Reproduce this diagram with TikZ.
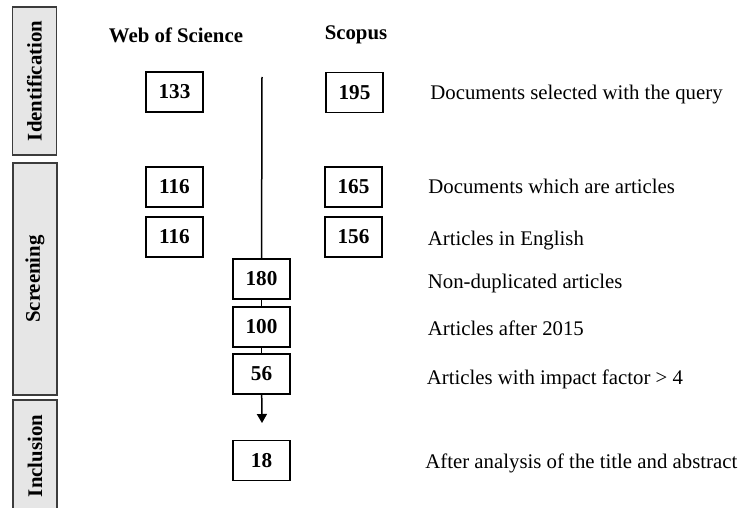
\documentclass[tikz,border=0pt]{standalone}
\usepackage{fontspec}
\setmainfont{Liberation Serif}
\usetikzlibrary{arrows.meta}
\definecolor{phasefill}{RGB}{230,230,230}
\definecolor{phaseline}{RGB}{60,60,60}

\begin{document}
\begin{tikzpicture}[
  x=0.5pt, y=-0.5pt,
  font=\fontsize{10.4}{12.5}\selectfont,
  phase/.style = {draw=phaseline, fill=phasefill, line width=0.9pt, rotate=90,
                  minimum height=22pt, inner sep=0pt, font=\fontsize{10.4}{12.5}\selectfont\bfseries},
  count/.style = {draw, line width=0.75pt, minimum width=28.5pt, minimum height=20pt,
                  inner sep=0pt, font=\fontsize{10.6}{12.5}\selectfont\bfseries},
  src/.style   = {font=\fontsize{10.4}{12.5}\selectfont\bfseries},
  desc/.style  = {anchor=west, inner sep=0pt, text height=1.5ex, text depth=0.25ex},
  flow/.style  = {line width=0.75pt},
  arr/.style   = {flow, -{Triangle[width=5pt, length=4.5pt]}}
]
\useasboundingbox (0,0) rectangle (739,508);

\node[phase, minimum width=74pt] (ident)  at (34.5,81)  {Identification};
\node[phase, minimum width=116pt] (screen) at (35,279)  {Screening};
\node[phase, minimum width=56pt] (incl)   at (35,456)   {Inclusion};

\node[src] (wos)    at (176,35) {Web of Science};
\node[src] (scopus) at (356,35) {Scopus};

\node[count] (wosq)   at (174.5,92)  {133};
\node[count] (scoq)   at (354.5,92.5){195};
\node[count] (wosart) at (174.5,187) {116};
\node[count] (scoart) at (353.5,187) {165};
\node[count] (woseng) at (174.5,237) {116};
\node[count] (scoeng) at (353.5,237) {156};
\node[count] (nodup)  at (261.5,279) {180};
\node[count] (recent) at (261.5,327) {100};
\node[count] (impact) at (261.5,374) {56};
\node[count] (final)  at (261.5,460.5) {18};

\node[desc] (dquery)  at (430,93.5)  {Documents selected with the query};
\node[desc] (dart)    at (428,187.5) {Documents which are articles};
\node[desc] (deng)    at (427.5,240) {Articles in English};
\node[desc] (dnodup)  at (427.5,283) {Non-duplicated articles};
\node[desc] (drecent) at (427.5,330) {Articles after 2015};
\node[desc] (dimpact) at (426.5,379) {Articles with impact factor > 4};
\node[desc] (dfinal)  at (425,463)   {After analysis of the title and abstract};

\coordinate (start) at (262,77);
\coordinate (tip)   at (262,423);

\draw[flow] (start) -- (nodup);
\draw[flow] (nodup) -- (recent);
\draw[flow] (recent) -- (impact);
\draw[arr]  (impact) -- (tip);
\end{tikzpicture}
\end{document}
